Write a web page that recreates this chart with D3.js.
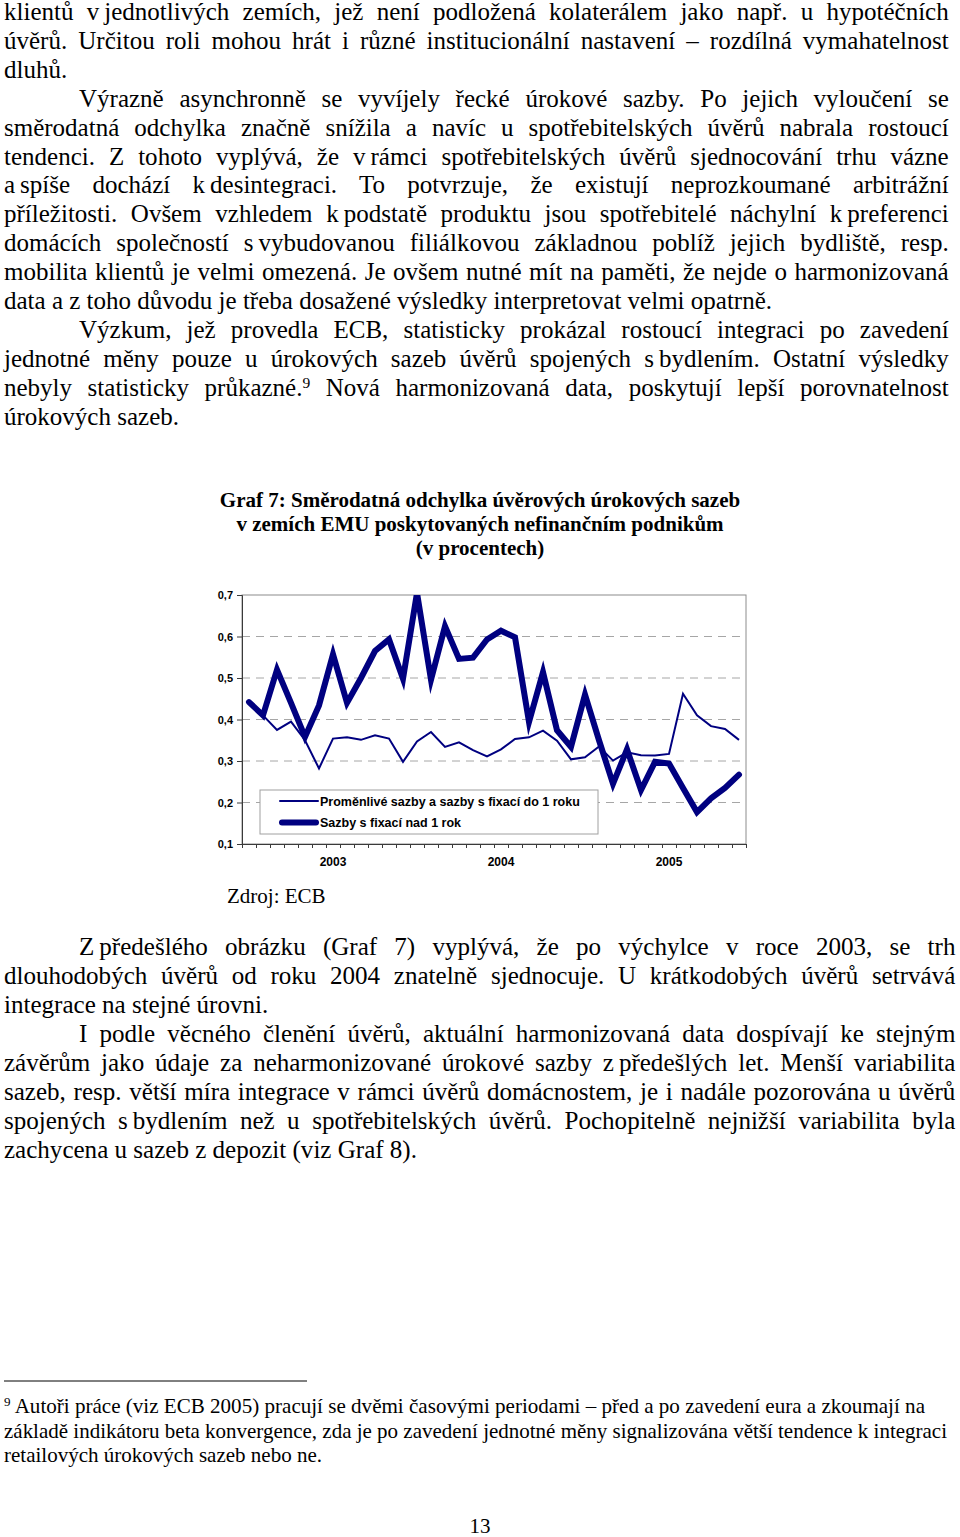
<!DOCTYPE html>
<html>
<head>
<meta charset="utf-8">
<script src="https://cdn.jsdelivr.net/npm/d3@7"></script>
<style>
  body { margin: 0; background: #fff; }
  svg { display: block; }
</style>
</head>
<body>
<svg id="page" width="960" height="1537"></svg>
<script>
// --- chart data ---
const years = ["2003", "2004", "2005"];
const months = years.flatMap(yr => d3.range(1, 13).map(m => `${String(m).padStart(2, "0")}/${yr}`));
const yearTickAt = years.map(yr => `07/${yr}`);
const yTicks = [0.1, 0.2, 0.3, 0.4, 0.5, 0.6, 0.7];

const seriesNames = ["Proměnlivé sazby a sazby s fixací do 1 roku", "Sazby s fixací nad 1 rok"];
const floatingRates = [0.442, 0.41, 0.375, 0.395, 0.35, 0.282, 0.354, 0.357, 0.351, 0.362, 0.354, 0.298,
                       0.347, 0.37, 0.334, 0.345, 0.326, 0.311, 0.328, 0.353, 0.357, 0.373, 0.349, 0.304,
                       0.309, 0.335, 0.301, 0.321, 0.314, 0.313, 0.317, 0.462, 0.41, 0.384, 0.377, 0.351];
const fixedRates = [0.442, 0.41, 0.52, 0.44, 0.358, 0.434, 0.557, 0.44, 0.5, 0.565, 0.593, 0.498,
                    0.705, 0.496, 0.625, 0.546, 0.549, 0.593, 0.614, 0.598, 0.394, 0.514, 0.374, 0.334,
                    0.46, 0.35, 0.245, 0.328, 0.23, 0.298, 0.294, 0.235, 0.177, 0.21, 0.235, 0.267];

const chartTitle = ["Graf 7: Směrodatná odchylka úvěrových úrokových sazeb",
                    "v zemích EMU poskytovaných nefinančním podnikům",
                    "(v procentech)"];
const sourceNote = "Zdroj: ECB";

// --- page text ---
const upperParagraphs = [
  ["klientů v\u202Fjednotlivých zemích, jež není podložená kolaterálem jako např. u hypotéčních",
   "úvěrů. Určitou roli mohou hrát i různé institucionální nastavení – rozdílná vymahatelnost",
   "dluhů."],
  ["Výrazně asynchronně se vyvíjely řecké úrokové sazby. Po jejich vyloučení se",
   "směrodatná odchylka značně snížila a navíc u spotřebitelských úvěrů nabrala rostoucí",
   "tendenci. Z tohoto vyplývá, že v\u202Frámci spotřebitelských úvěrů sjednocování trhu vázne",
   "a\u202Fspíše dochází k\u202Fdesintegraci. To potvrzuje, že existují neprozkoumané arbitrážní",
   "příležitosti. Ovšem vzhledem k\u202Fpodstatě produktu jsou spotřebitelé náchylní k\u202Fpreferenci",
   "domácích společností s\u202Fvybudovanou filiálkovou základnou poblíž jejich bydliště, resp.",
   "mobilita klientů je velmi omezená. Je ovšem nutné mít na paměti, že nejde o harmonizovaná",
   "data a z toho důvodu je třeba dosažené výsledky interpretovat velmi opatrně."],
  ["Výzkum, jež provedla ECB, statisticky prokázal rostoucí integraci po zavedení",
   "jednotné měny pouze u úrokových sazeb úvěrů spojených s\u202Fbydlením. Ostatní výsledky",
   "nebyly statisticky průkazné.^9 Nová harmonizovaná data, poskytují lepší porovnatelnost",
   "úrokových sazeb."]
];
const lowerParagraphs = [
  ["Z\u202Fpředešlého obrázku (Graf 7) vyplývá, že po výchylce v roce 2003, se trh",
   "dlouhodobých úvěrů od roku 2004 znatelně sjednocuje. U krátkodobých úvěrů setrvává",
   "integrace na stejné úrovni."],
  ["I podle věcného členění úvěrů, aktuální harmonizovaná data dospívají ke stejným",
   "závěrům jako údaje za neharmonizované úrokové sazby z\u202Fpředešlých let. Menší variabilita",
   "sazeb, resp. větší míra integrace v rámci úvěrů domácnostem, je i nadále pozorována u úvěrů",
   "spojených s\u202Fbydlením než u spotřebitelských úvěrů. Pochopitelně nejnižší variabilita byla",
   "zachycena u sazeb z depozit (viz Graf 8)."]
];
const footnoteLines = [
  "^9 Autoři práce (viz ECB 2005) pracují se dvěmi časovými periodami – před a po zavedení eura a zkoumají na",
  "základě indikátoru beta konvergence, zda je po zavedení jednotné měny signalizována větší tendence k integraci",
  "retailových úrokových sazeb nebo ne."
];
const pageNumber = "13";

const svg = d3.select("#page");
const serif = "'Liberation Serif','Times New Roman',serif";
const sans = "'Liberation Sans',Arial,sans-serif";
const navy = "#000080";

// text with ^n superscripts
function richText(sel, str) {
  str.split(/\^(\d+)/).forEach((p, i) => {
    if (p === "") return;
    const ts = sel.append("tspan").text(p);
    if (i % 2) ts.attr("baseline-shift", "super").attr("font-size", "62%");
  });
}

// justified block; glyph width is calibrated on paragraph-final lines
function drawBlock(paras, cfg) {
  const g = svg.append("g").attr("font-family", serif).attr("font-size", cfg.size).attr("fill", "#000");
  const rows = [];
  paras.forEach((p, pi) => p.forEach((t, li) => rows.push({
    t, first: li === 0 && (pi > 0 || cfg.indentFirst), last: li === p.length - 1
  })));
  rows.forEach((d, i) => {
    d.x0 = d.first ? cfg.indent : cfg.left;
    d.y = cfg.base + i * cfg.lead;
    d.el = g.append("text");
    richText(d.el, d.t);
    d.w = d.el.node().getComputedTextLength();
  });
  const ends = rows.filter(d => d.last);
  const sx = d3.mean(ends, (d, i) => (cfg.lastEnds[i] - d.x0) / d.w);
  rows.forEach(d => {
    d.el.attr("transform", `translate(${d.x0},${d.y}) scale(${sx},1)`);
    if (!d.last) {
      const gaps = (d.t.match(/ /g) || []).length;
      d.el.style("word-spacing", `${((cfg.right - d.x0) / sx - d.w) / gaps}px`);
    }
  });
}

drawBlock(upperParagraphs, {size: 25, left: 4, indent: 79, right: 949, base: 20, lead: 28.9,
                            indentFirst: false, lastEnds: [66, 779, 181]});
drawBlock(lowerParagraphs, {size: 26, left: 4, indent: 79, right: 956, base: 955, lead: 29,
                            indentFirst: true, lastEnds: [268, 418]});

// footnote
svg.append("line").attr("x1", 4).attr("x2", 307).attr("y1", 1381).attr("y2", 1381)
  .attr("stroke", "#000").attr("stroke-width", 1);
const footEnds = [925, 947, 322];
svg.append("g").attr("font-family", serif).attr("font-size", 21)
  .selectAll("text").data(footnoteLines).join("text")
  .attr("x", 4).attr("y", (d, i) => 1413 + i * 24.5)
  .attr("textLength", (d, i) => footEnds[i] - 4).attr("lengthAdjust", "spacingAndGlyphs")
  .each(function(d) { richText(d3.select(this), d); });

svg.append("text").attr("x", 480).attr("y", 1533).attr("text-anchor", "middle")
  .attr("font-family", serif).attr("font-size", 21).text(pageNumber);

// --- chart ---
const plot = {left: 242, right: 746, top: 595, bottom: 844};
const x = d3.scaleBand().domain(months).range([plot.left, plot.right]);
const xEdge = d3.scaleLinear().domain([0, months.length]).range([plot.left, plot.right]);
const y = d3.scaleLinear().domain([0.1, 0.7]).range([plot.bottom, plot.top]);
const chart = svg.append("g");

chart.append("g").attr("font-family", serif).attr("font-weight", "bold").attr("font-size", 21)
  .attr("text-anchor", "middle")
  .selectAll("text").data(chartTitle).join("text")
  .attr("x", 480).attr("y", (d, i) => 507 + i * 24).text(d => d);

chart.append("text").attr("x", 227).attr("y", 903).attr("font-family", serif).attr("font-size", 21)
  .text(sourceNote);

// gridlines
chart.append("g").selectAll("line").data(yTicks.filter(v => v > 0.1 && v < 0.7)).join("line")
  .attr("x1", plot.left).attr("x2", plot.right)
  .attr("y1", d => y(d)).attr("y2", d => y(d))
  .attr("stroke", "#a6a6a6").attr("stroke-dasharray", "8,6");

chart.append("rect")
  .attr("x", plot.left).attr("y", plot.top)
  .attr("width", plot.right - plot.left).attr("height", plot.bottom - plot.top)
  .attr("fill", "none").attr("stroke", "#8c8c8c");

svg.append("defs").append("clipPath").attr("id", "plotClip").append("rect")
  .attr("x", plot.left).attr("y", plot.top)
  .attr("width", plot.right - plot.left).attr("height", plot.bottom - plot.top);

const line = d3.line()
  .x((d, i) => x(months[i]) + x.bandwidth() / 2)
  .y(d => y(d));

const lines = chart.append("g").attr("clip-path", "url(#plotClip)").attr("fill", "none").attr("stroke", navy);
lines.append("path").datum(floatingRates).attr("d", line).attr("stroke-width", 2);
lines.append("path").datum(fixedRates).attr("d", line).attr("stroke-width", 6)
  .attr("stroke-linecap", "round").attr("stroke-miterlimit", 6);

// axes
function styleAxis(g) {
  g.attr("font-family", sans).attr("font-size", 11).attr("font-weight", "bold");
  g.select(".domain").attr("stroke", "#3a3a3a");
  g.selectAll(".tick line").attr("stroke", "#3a3a3a");
  g.selectAll("text").attr("fill", "#000");
}

chart.append("g").attr("transform", `translate(${plot.left},0)`)
  .call(d3.axisLeft(y).tickValues(yTicks).tickSize(5).tickPadding(4)
    .tickFormat(d => d3.format(".1f")(d).replace(".", ",")))
  .call(styleAxis);

chart.append("g").attr("transform", `translate(0,${plot.bottom})`)
  .call(d3.axisBottom(xEdge).tickValues(d3.range(months.length + 1)).tickSize(4).tickSizeOuter(0).tickFormat(""))
  .call(styleAxis);

chart.append("g").attr("transform", `translate(0,${plot.bottom})`)
  .call(d3.axisBottom(x).tickValues(yearTickAt).tickSize(0).tickPadding(13)
    .tickFormat(m => m.slice(3)))
  .call(styleAxis)
  .call(g => g.select(".domain").remove())
  .call(g => g.selectAll("text").attr("font-size", 12));

// legend
const legend = chart.append("g");
legend.append("rect").attr("x", 260).attr("y", 790).attr("width", 338).attr("height", 44)
  .attr("fill", "#fff").attr("stroke", "#a0a0a0");
const legendRows = legend.selectAll("g").data(seriesNames).join("g")
  .attr("transform", (d, i) => `translate(0,${801 + i * 21.5})`);
legendRows.append("line").attr("x1", (d, i) => i ? 282 : 280).attr("x2", (d, i) => i ? 316 : 318)
  .attr("stroke", navy).attr("stroke-width", (d, i) => i ? 6 : 2).attr("stroke-linecap", "round");
legendRows.append("text").attr("x", 320).attr("y", 4.5)
  .attr("font-family", sans).attr("font-size", 12.5).attr("font-weight", "bold").text(d => d);
</script>
</body>
</html>
